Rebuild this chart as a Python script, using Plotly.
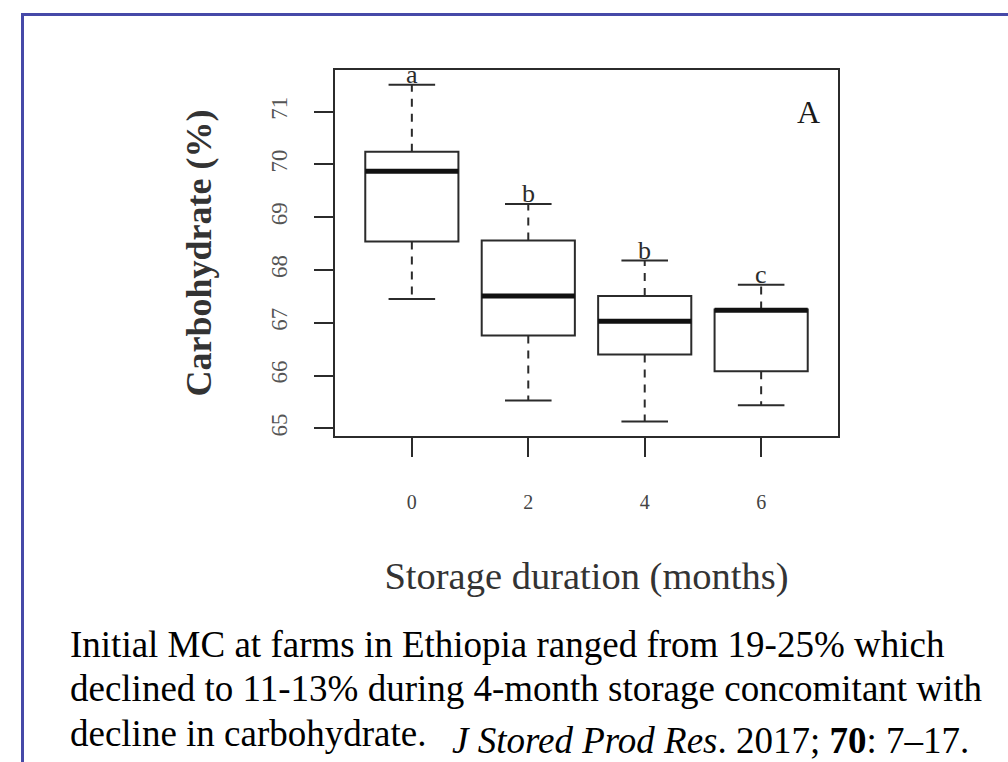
import plotly.graph_objects as go

# ---- data ----
months = ["0", "2", "4", "6"]
whisker_low = [67.45, 65.53, 65.13, 65.44]
q1 = [68.54, 66.76, 66.40, 66.08]
median = [69.87, 67.51, 67.03, 67.24]
q3 = [70.24, 68.56, 67.51, 67.25]
whisker_high = [71.51, 69.25, 68.18, 67.72]
letters = ["a", "b", "b", "c"]

y_ticks = [65, 66, 67, 68, 69, 70, 71]

caption_lines = [
    "Initial MC at farms in Ethiopia ranged from 19-25% which",
    "declined to 11-13% during 4-month storage concomitant with",
    "decline in carbohydrate.",
]
citation = "<i>J Stored Prod Res</i>. 2017; <b>70</b>: 7\u201317."

# ---- layout geometry (pixels) ----
W, H = 1008, 762
L, R, T, B = 335, 838, 70, 436
pw, ph = R - L, B - T


def px(x):
    return (x - L) / pw


def py(y):
    return (B - y) / ph


SERIF = "Liberation Serif"
INK = "#2b2b2b"
pos = list(range(len(months)))
box_w = 0.8
cap_w = 0.4

fig = go.Figure()

# boxes (library box trace, whiskers drawn separately in R style)
fig.add_trace(go.Box(
    x=pos, q1=q1, median=median, q3=q3,
    lowerfence=q1, upperfence=q3,
    width=box_w, whiskerwidth=0,
    fillcolor="white",
    line=dict(color=INK, width=2),
    boxpoints=False, hoverinfo="skip", showlegend=False,
))

# dashed whiskers
wx, wy = [], []
for i in pos:
    wx += [i, i, None, i, i, None]
    wy += [q3[i], whisker_high[i], None, q1[i], whisker_low[i], None]
fig.add_trace(go.Scatter(x=wx, y=wy, mode="lines",
                         line=dict(color=INK, width=2, dash="8px,7px"),
                         hoverinfo="skip", showlegend=False))

# whisker caps
cx, cy = [], []
for i in pos:
    for v in (whisker_high[i], whisker_low[i]):
        cx += [i - cap_w / 2, i + cap_w / 2, None]
        cy += [v, v, None]
fig.add_trace(go.Scatter(x=cx, y=cy, mode="lines",
                         line=dict(color=INK, width=2),
                         hoverinfo="skip", showlegend=False))

# thick medians
mx, my = [], []
for i in pos:
    mx += [i - box_w / 2, i + box_w / 2, None]
    my += [median[i], median[i], None]
fig.add_trace(go.Scatter(x=mx, y=my, mode="lines",
                         line=dict(color="#111111", width=5),
                         hoverinfo="skip", showlegend=False))

annotations = []
# significance letters
for i in pos:
    annotations.append(dict(
        x=i, y=whisker_high[i], xref="x", yref="y", text=letters[i],
        showarrow=False, yanchor="bottom", yshift=-6,
        font=dict(family=SERIF, size=26, color=INK),
    ))

# panel letter
annotations.append(dict(
    x=px(808), y=py(112), xref="paper", yref="paper", text="A",
    showarrow=False, xanchor="center", yanchor="middle",
    font=dict(family=SERIF, size=32, color="#1a1a1a"),
))

# caption
cap_size = 37
for k, (line, base) in enumerate(zip(caption_lines, [656, 700, 745])):
    annotations.append(dict(
        x=px(68), y=py(base - 0.31 * cap_size), xref="paper", yref="paper",
        text=line, showarrow=False, xanchor="left", yanchor="middle",
        font=dict(family=SERIF, size=cap_size, color="black"),
    ))
cit_size = 37
annotations.append(dict(
    x=px(450), y=py(752 - 0.31 * cit_size), xref="paper", yref="paper",
    text=citation, showarrow=False, xanchor="left", yanchor="middle",
    font=dict(family=SERIF, size=cit_size, color="black"),
))

# blue frame
shapes = [dict(
    type="rect", xref="paper", yref="paper",
    x0=px(22.5), x1=px(1030), y0=py(14.5), y1=py(800),
    line=dict(color="#4649a8", width=3), fillcolor="rgba(0,0,0,0)",
    layer="below",
)]

fig.update_layout(
    width=W, height=H,
    margin=dict(l=L, r=W - R, t=T, b=H - B),
    paper_bgcolor="white", plot_bgcolor="white",
    showlegend=False,
    annotations=annotations,
    shapes=shapes,
    xaxis=dict(
        range=[-0.66, 3.66], tickmode="array", tickvals=pos, ticktext=months,
        showgrid=False, zeroline=False,
        showline=True, mirror=True, linecolor=INK, linewidth=2,
        ticks="outside", ticklen=19, tickwidth=2, tickcolor=INK,
        ticklabelstandoff=28,
        tickfont=dict(family=SERIF, size=20, color="#444444"),
        title=dict(text="Storage duration (months)", standoff=50,
                   font=dict(family=SERIF, size=38.5, color="#333333")),
    ),
    yaxis=dict(
        range=[64.855, 71.79], tickmode="array", tickvals=y_ticks,
        showgrid=False, zeroline=False,
        showline=True, mirror=True, linecolor=INK, linewidth=2,
        ticks="outside", ticklen=19, tickwidth=2, tickcolor=INK,
        tickangle=-90, ticklabelstandoff=18,
        tickfont=dict(family=SERIF, size=23, color="#555555"),
        title=dict(text="<b>Carbohydrate (%)</b>", standoff=44,
                   font=dict(family=SERIF, size=36, color="#333333")),
    ),
)

fig.write_html(
    "out.html",
    config={"displayModeBar": False},
    post_script="document.body.style.margin='0';document.body.style.padding='0';",
)
